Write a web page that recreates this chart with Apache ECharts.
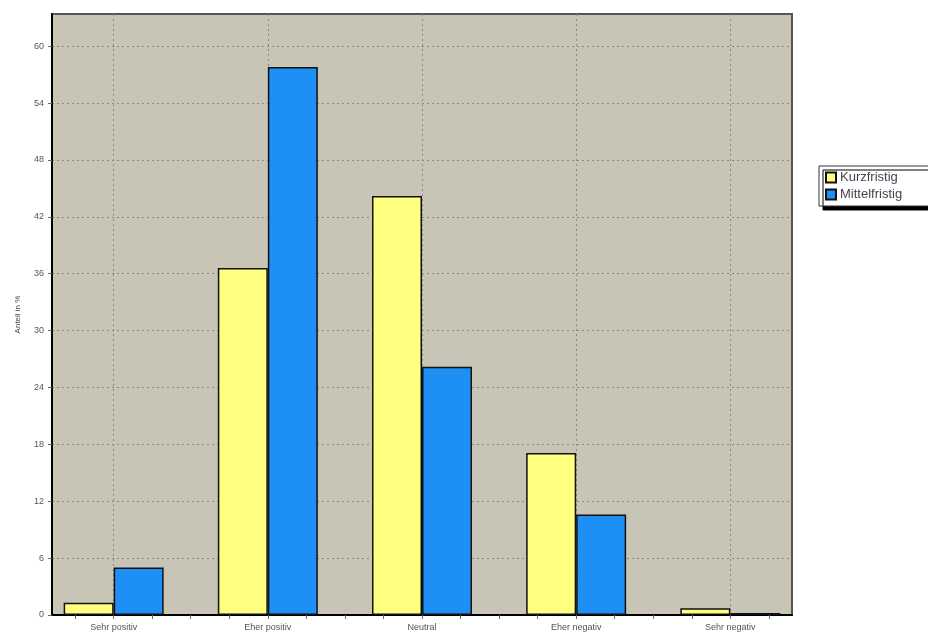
<!DOCTYPE html>
<html>
<head>
<meta charset="utf-8">
<script src="https://cdn.jsdelivr.net/npm/echarts@6/dist/echarts.min.js"></script>
<style>
  html, body { margin: 0; padding: 0; background: #fff; }
  #main { width: 928px; height: 641px; }
</style>
</head>
<body>
<div id="main"></div>
<script>
// Kategorien und Werte (Anteil in %)
const categories = ['Sehr positiv', 'Eher positiv', 'Neutral', 'Eher negativ', 'Sehr negativ'];
const kurzfristig = [1.3, 36.6, 44.2, 17.1, 0.7];
const mittelfristig = [5.0, 57.8, 26.2, 10.6, 0.2];
const yTicks = [0, 6, 12, 18, 24, 30, 36, 42, 48, 54, 60];
const xTicks = [-0.25, 0, 0.25, 0.5, 0.75, 1, 1.25, 1.5, 1.75, 2, 2.25, 2.5, 2.75, 3, 3.25, 3.5, 3.75, 4, 4.25];

const myChart = echarts.init(document.getElementById('main'));

const font = 'Liberation Sans, Arial, sans-serif';
const gridLine = { show: true, lineStyle: { color: '#8c8a80', type: [2, 3], width: 1 } };

// Kategorie-Positionen als Zahlen, damit Balken mittig auf den Rasterlinien liegen
const toPairs = arr => arr.map((v, i) => [i, v]);

const option = {
    backgroundColor: '#ffffff',
    animation: false,
    grid: {
        left: 52,
        top: 14,
        right: 136,
        bottom: 26,
        show: true,
        backgroundColor: '#c9c5b6',
        borderColor: '#555555',
        borderWidth: 2
    },
    legend: {
        orient: 'vertical',
        left: 819,
        top: 166,
        itemWidth: 10,
        itemHeight: 10,
        itemGap: 4,
        padding: [5, 30, 5, 6],
        backgroundColor: '#ffffff',
        borderColor: '#333',
        borderWidth: 1,
        shadowColor: '#000',
        shadowOffsetX: 4,
        shadowOffsetY: 4,
        shadowBlur: 0,
        textStyle: { fontFamily: font, fontSize: 13, color: '#4a4050', padding: [0, 0, 0, -1] },
        data: [
            { name: 'Kurzfristig', icon: 'rect' },
            { name: 'Mittelfristig', icon: 'rect' }
        ]
    },
    xAxis: [
        {
            type: 'value',
            min: -0.4,
            max: 4.4,
            axisLine: { show: true, lineStyle: { color: '#000', width: 2 } },
            axisTick: { show: true, length: 4, customValues: xTicks, lineStyle: { color: '#666' } },
            axisLabel: {
                customValues: [0, 1, 2, 3, 4],
                fontFamily: font,
                fontSize: 9,
                color: '#555',
                margin: 8,
                formatter: v => categories[Math.round(v)]
            },
            splitLine: { show: false }
        },
        {
            type: 'value',
            min: -0.4,
            max: 4.4,
            position: 'bottom',
            axisLine: { show: false },
            axisTick: { show: false, customValues: [0, 1, 2, 3, 4] },
            axisLabel: { show: false, customValues: [0, 1, 2, 3, 4] },
            splitLine: gridLine
        }
    ],
    yAxis: {
        type: 'value',
        min: 0,
        max: 63.4,
        interval: 6,
        name: 'Anteil in %',
        nameLocation: 'middle',
        nameGap: 30,
        nameTextStyle: { fontFamily: font, fontSize: 8, color: '#444' },
        axisLine: { show: true, onZero: false, lineStyle: { color: '#000', width: 2 } },
        axisTick: { show: true, length: 4, customValues: yTicks, lineStyle: { color: '#666' } },
        axisLabel: {
            customValues: yTicks,
            fontFamily: font,
            fontSize: 9,
            color: '#555',
            margin: 8
        },
        splitLine: gridLine
    },
    series: [
        {
            name: 'Kurzfristig',
            type: 'bar',
            barWidth: 50,
            barGap: '0%',
            itemStyle: { color: '#ffff80', borderColor: '#111', borderWidth: 1.5 },
            data: toPairs(kurzfristig)
        },
        {
            name: 'Mittelfristig',
            type: 'bar',
            barWidth: 50,
            barGap: '0%',
            itemStyle: { color: '#1e8ff5', borderColor: '#111', borderWidth: 1.5 },
            data: toPairs(mittelfristig)
        }
    ]
};

myChart.setOption(option);
</script>
</body>
</html>
